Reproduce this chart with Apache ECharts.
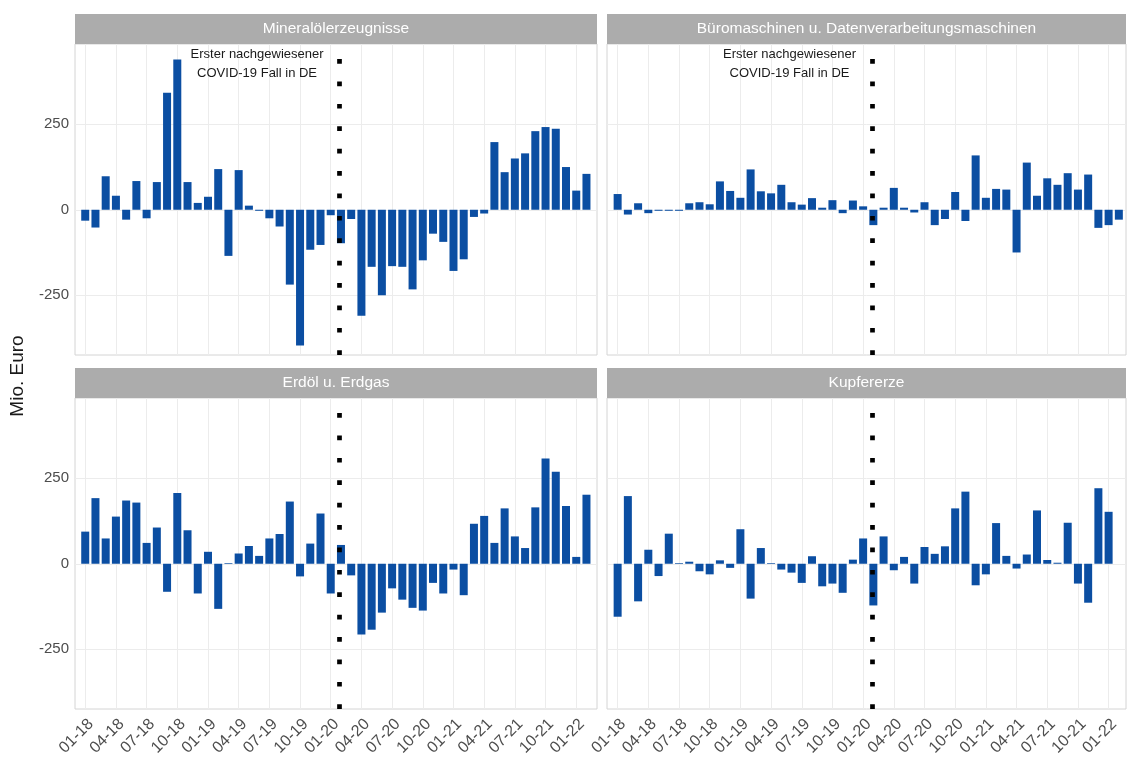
<!DOCTYPE html>
<html>
<head>
<meta charset="utf-8">
<script src="https://cdn.jsdelivr.net/npm/echarts@6/dist/echarts.min.js"></script>
<style>
  html, body { margin: 0; padding: 0; background: #ffffff; }
  #chart { width: 1130px; height: 767px; }
</style>
</head>
<body>
<div id="chart"></div>
<script>
// ---------- data ----------
const months = ['01-18','02-18','03-18','04-18','05-18','06-18','07-18','08-18','09-18','10-18','11-18','12-18',
                '01-19','02-19','03-19','04-19','05-19','06-19','07-19','08-19','09-19','10-19','11-19','12-19',
                '01-20','02-20','03-20','04-20','05-20','06-20','07-20','08-20','09-20','10-20','11-20','12-20',
                '01-21','02-21','03-21','04-21','05-21','06-21','07-21','08-21','09-21','10-21','11-21','12-21',
                '01-22','02-22'];
const tickLabels = ['01-18','04-18','07-18','10-18','01-19','04-19','07-19','10-19','01-20','04-20','07-20','10-20','01-21','04-21','07-21','10-21','01-22'];
const yTicks = [-250, 0, 250];
const panelTitles = ['Mineralölerzeugnisse', 'Büromaschinen u. Datenverarbeitungsmaschinen', 'Erdöl u. Erdgas', 'Kupfererze'];
const mineraloel = [-32,-52,98,41,-29,84,-25,81,342,440, 81,20,38,119,-135,116,12,-3,-25,-49,
                    -219,-397,-117,-103,-16,-98,-27,-310,-167,-250, -165,-167,-233,-148,-70,-94,-179,-145,-21,-11,
                    198,110,150,165,230,242,237,125,56,105];
const bueromaschinen = [46,-14,19,-10,-3,-3,-3,19,22,16, 83,55,35,118,54,48,73,22,15,34,
                        6,28,-10,27,10,-45,6,64,6,-8, 22,-45,-27,52,-33,159,35,61,59,-125,
                        138,41,92,73,107,59,103,-53,-45,-29];
const erdoel = [94,192,74,138,185,179,61,106,-82,207, 98,-87,35,-132,2,30,52,23,74,87,
                182,-37,59,147,-87,55,-34,-207,-193,-143, -72,-105,-129,-137,-56,-87,-17,-92,117,140,
                61,162,80,46,165,308,269,169,20,202];
const kupfererze = [-155,198,-110,41,-36,88,2,6,-22,-31, 10,-12,101,-102,46,2,-17,-26,-56,22,
                    -66,-58,-85,12,74,-122,80,-19,20,-58, 49,29,51,162,211,-63,-31,119,23,-14,
                    27,156,11,3,120,-58,-114,221,152,0];
const covidMonthPos = 24.87;   // 27.01.2020 on the month axis
const annotationText = 'Erster nachgewiesener\nCOVID-19 Fall in DE';
const annotationPos = [16.8, 428];

const seriesValues = [mineraloel, bueromaschinen, erdoel, kupfererze];

// ---------- layout ----------
const FONT = '"Liberation Sans", Arial, Helvetica, sans-serif';
const panels = [
  { left: 75,  top: 44,  width: 522, height: 311, xmin: -1.0,  xmax: 50.03, showX: false, showY: true,  note: true },
  { left: 607, top: 44,  width: 519, height: 311, xmin: -1.04, xmax: 49.7,  showX: false, showY: false, note: true },
  { left: 75,  top: 398, width: 522, height: 311, xmin: -1.0,  xmax: 50.03, showX: true,  showY: true,  note: false },
  { left: 607, top: 398, width: 519, height: 311, xmin: -1.04, xmax: 49.7,  showX: true,  showY: false, note: false }
];
const YMIN = -425, YMAX = 485;
const tickIdx = tickLabels.map(t => months.indexOf(t));

const grid = [], xAxis = [], yAxis = [], series = [], graphic = [];
panels.forEach((p, i) => {
  grid.push({ left: p.left, top: p.top, width: p.width, height: p.height,
              show: true, borderColor: '#d4d4d4', borderWidth: 1, backgroundColor: '#ffffff' });
  xAxis.push({
    type: 'value', gridIndex: i, min: p.xmin, max: p.xmax,
    axisLine: { show: false },
    splitLine: { show: false },
    axisTick: { show: p.showX, customValues: tickIdx, length: 4, lineStyle: { color: '#555', width: 1 } },
    axisLabel: { show: p.showX, customValues: tickIdx, rotate: 45, margin: 7,
                 align: 'right', verticalAlign: 'top',
                 fontSize: 16, color: '#4d4d4d', fontFamily: FONT,
                 formatter: v => months[Math.round(v)] }
  });
  yAxis.push({
    type: 'value', gridIndex: i, min: YMIN, max: YMAX,
    axisLine: { show: false },
    splitLine: { show: false },
    axisTick: { show: p.showY, customValues: yTicks, length: 4, lineStyle: { color: '#555', width: 1 } },
    axisLabel: { show: p.showY, customValues: yTicks, margin: 6,
                 fontSize: 15, color: '#4d4d4d', fontFamily: FONT }
  });
  // grid lines (behind bars)
  const gl = [];
  tickIdx.forEach(t => gl.push({ xAxis: t }));
  yTicks.forEach(t => gl.push({ yAxis: t }));
  series.push({
    type: 'line', xAxisIndex: i, yAxisIndex: i, data: [], z: 1, silent: true,
    markLine: { silent: true, z: 1, symbol: 'none', label: { show: false },
                lineStyle: { color: '#ececec', width: 1, type: 'solid' }, data: gl, animation: false }
  });
  // bars
  series.push({
    type: 'bar', xAxisIndex: i, yAxisIndex: i, z: 3, barWidth: 8,
    itemStyle: { color: '#0b4ea2' },
    data: seriesValues[i].map((v, k) => [k, v]),
    markPoint: p.note ? {
      symbol: 'rect', symbolSize: 0, silent: true, animation: false, z: 6,
      label: { show: true, position: 'inside', formatter: annotationText,
               fontSize: 13, lineHeight: 19, color: '#1a1a1a', fontFamily: FONT, align: 'center' },
      data: [{ coord: annotationPos }]
    } : undefined
  });
  // covid dotted line (above bars)
  series.push({
    type: 'line', xAxisIndex: i, yAxisIndex: i, data: [], z: 5, silent: true,
    markLine: { silent: true, z: 6, symbol: 'none', label: { show: false }, animation: false,
                lineStyle: { color: '#000000', width: 4.7, type: [4.7, 17.7], cap: 'butt', dashOffset: 0 },
                data: [{ xAxis: covidMonthPos }] }
  });
  // strip
  graphic.push({ type: 'rect', left: p.left, top: p.top - 30,
                 shape: { width: p.width, height: 30 },
                 style: { fill: '#acacac' }, z: 10 });
  graphic.push({ type: 'text', x: p.left + p.width / 2, y: p.top - 15,
                 style: { text: panelTitles[i], fill: '#ffffff', font: '15.5px ' + FONT,
                          textAlign: 'center', textVerticalAlign: 'middle' }, z: 11 });
});
graphic.push({ type: 'text', x: 18, y: 376, rotation: Math.PI / 2,
               style: { text: 'Mio. Euro', fill: '#1a1a1a', font: '19px ' + FONT,
                        textAlign: 'center', textVerticalAlign: 'middle' } });

const chart = echarts.init(document.getElementById('chart'), null, { renderer: 'canvas' });
chart.setOption({
  animation: false,
  backgroundColor: '#ffffff',
  grid, xAxis, yAxis, series, graphic
});
</script>
</body>
</html>
